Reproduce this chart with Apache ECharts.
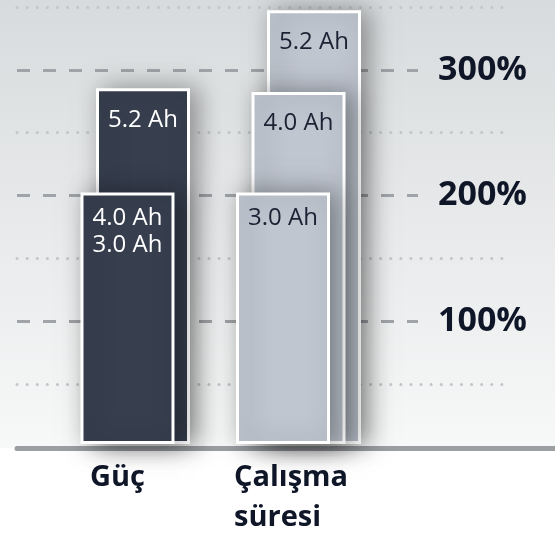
<!DOCTYPE html>
<html>
<head>
<meta charset="utf-8">
<script src="https://cdn.jsdelivr.net/npm/echarts@6/dist/echarts.min.js"></script>
<style>
html,body{margin:0;padding:0;background:#fff;}
#c{width:555px;height:534px;}
</style>
</head>
<body>
<div id="c"></div>
<script>
const categories = ['Güç', 'Çalışma\nsüresi'];
const frontValues = [200, 200];
const frontLabels = ['4.0 Ah\n3.0 Ah', '3.0 Ah'];
const midValues = [283, 280];
const midLabels = ['5.2 Ah', '4.0 Ah'];
const backValues = [null, 345];
const backLabels = ['', '5.2 Ah'];
const majorTicks = [100, 200, 300];
const categoryColors = ['#373f4f', '#bfc6d0'];
const labelColors = ['#ffffff', '#1a2233'];

const FONT = 'Open Sans';
const chart = echarts.init(document.getElementById('c'));

function makeSeries(values, labels, z, dist) {
  return {
    type: 'bar',
    xAxisIndex: 0, yAxisIndex: 0,
    barWidth: 94,
    barGap: '-83.5%',
    z: z,
    data: values.map((v, i) => ({
      value: v,
      itemStyle: { color: categoryColors[i] },
      label: { color: labelColors[i], formatter: labels[i] }
    })),
    itemStyle: {
      borderColor: '#ffffff', borderWidth: 3,
      shadowBlur: 24, shadowColor: 'rgba(0,0,0,0.38)', shadowOffsetX: 7, shadowOffsetY: 0
    },
    label: {
      show: true, position: 'insideTop', distance: dist,
      fontFamily: FONT, fontSize: 24, lineHeight: 27
    }
  };
}

const option = {
  backgroundColor: '#ffffff',
  animation: false,
  grid: [
    { left: 65.25, right: 178.75, top: 4, bottom: 90 },
    { left: 17, right: 137, top: 7, bottom: 87 },
    { left: 17, right: 45, top: 7, bottom: 149.9 },
    { left: 17, right: 0, top: 300, bottom: 86 },
    { left: 0, right: 0, top: 0, bottom: 86, show: true, borderWidth: 0, z: -1,
      backgroundColor: new echarts.graphic.LinearGradient(0, 0, 0, 1, [
        { offset: 0, color: '#d8dbdd' }, { offset: 1, color: '#f7f8f8' }
      ]) }
  ],
  xAxis: [
    { gridIndex: 0, type: 'category', data: categories,
      axisLine: { show: false }, axisTick: { show: false },
      axisLabel: {
        margin: 14,
        formatter: (v, i) => (i === 0 ? '{a|' + v + '}' : '{b|' + v + '}'),
        rich: {
          a: { width: 106, align: 'left', fontFamily: FONT, fontSize: 29, fontWeight: 'bold', lineHeight: 40, color: '#0f1628' },
          b: { width: 129, align: 'left', fontFamily: FONT, fontSize: 29, fontWeight: 'bold', lineHeight: 40, color: '#0f1628' }
        }
      } },
    { gridIndex: 1, type: 'value', show: false },
    { gridIndex: 2, type: 'value', show: false },
    { gridIndex: 3, type: 'value', axisLine: { show: true, onZero: false, lineStyle: { color: '#9b9ea2', width: 5 } },
      axisTick: { show: false }, axisLabel: { show: false }, splitLine: { show: false } },
    { gridIndex: 4, type: 'value', show: false }
  ],
  yAxis: [
    { gridIndex: 0, type: 'value', min: 0, max: 350, show: false, splitLine: { show: false } },
    { gridIndex: 1, type: 'value', min: 0, max: 350, interval: 100, position: 'right',
      axisLine: { show: false }, axisTick: { show: false },
      splitLine: { show: true, showMinLine: false, showMaxLine: false,
        lineStyle: { color: '#a0a3a7', width: 3, type: [13, 13] } },
      axisLabel: {
        margin: 20, align: 'left',
        fontFamily: FONT, fontSize: 34, fontWeight: 'bold', color: '#0f1628',
        formatter: v => (majorTicks.indexOf(v) >= 0 ? v + '%' : '')
      } },
    { gridIndex: 2, type: 'value', min: 50, max: 350, interval: 100,
      axisLine: { show: false }, axisTick: { show: false }, axisLabel: { show: false },
      splitLine: { show: true, showMinLine: true, showMaxLine: true,
        lineStyle: { color: '#c3c6ca', width: 3, type: [0.1, 10], cap: 'round' } } },
    { gridIndex: 3, type: 'value', show: false },
    { gridIndex: 4, type: 'value', show: false }
  ],
  series: [
    makeSeries(frontValues, frontLabels, 5, 12),
    makeSeries(midValues, midLabels, 4, 18),
    makeSeries(backValues, backLabels, 3, 18)
  ]
};
chart.setOption(option);
</script>
</body>
</html>
